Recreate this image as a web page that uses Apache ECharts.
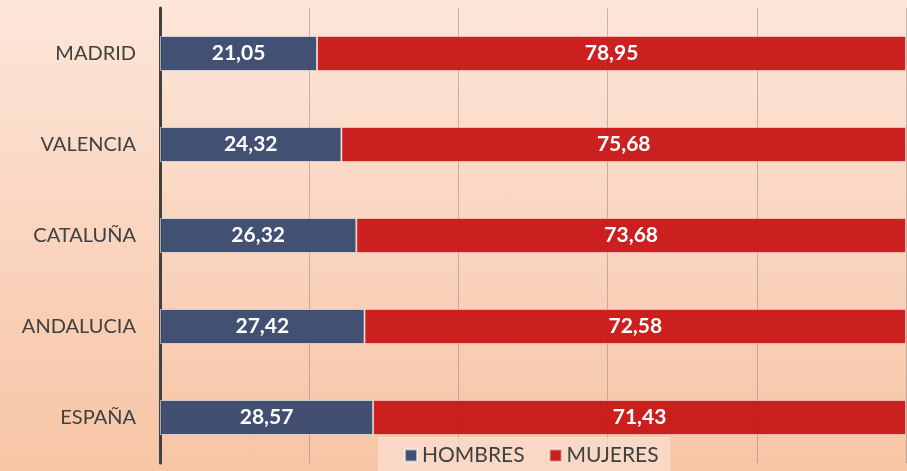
<!DOCTYPE html>
<html>
<head>
<meta charset="utf-8">
<script src="https://cdn.jsdelivr.net/npm/echarts@6/dist/echarts.min.js"></script>
<style>
html,body{margin:0;padding:0;}
#chart{width:907px;height:471px;background:linear-gradient(to bottom,#fde6d9 0%,#f9d3bc 55%,#f6c5a5 100%);}
</style>
</head>
<body>
<div id="chart"></div>
<script>
const categories = ['MADRID','VALENCIA','CATALUÑA','ANDALUCIA','ESPAÑA'];
const hombres = [21.05, 24.32, 26.32, 27.42, 28.57];
const mujeres = [78.95, 75.68, 73.68, 72.58, 71.43];
const seriesNames = ['HOMBRES','MUJERES'];

const chart = echarts.init(document.getElementById('chart'));
const fmt = p => p.value.toFixed(2).replace('.', ',');
const labelStyle = {
  show: true, position: 'inside', color: '#ffffff', fontWeight: 'bold',
  fontSize: 21, fontFamily: 'Lato', formatter: fmt
};
chart.setOption({
  backgroundColor: 'transparent',
  animation: false,
  grid: {left: 160, right: 1, top: 8, bottom: 8, containLabel: false},
  xAxis: {
    type: 'value', min: 0, max: 100, interval: 20,
    axisLabel: {show: false}, axisLine: {show: false}, axisTick: {show: false},
    splitLine: {show: true, lineStyle: {color: 'rgba(140,120,110,0.45)', width: 1}}
  },
  yAxis: {
    type: 'category', data: categories, inverse: true,
    axisLine: {show: true, lineStyle: {color: '#404040', width: 3}},
    axisTick: {show: false},
    axisLabel: {color: '#404040', fontSize: 20, fontFamily: 'Lato', margin: 24}
  },
  legend: {
    data: seriesNames, left: 378, top: 437,
    backgroundColor: 'rgba(250,228,212,0.65)',
    padding: [8, 12, 12, 26], itemGap: 24,
    itemWidth: 12, itemHeight: 12, icon: 'rect',
    textStyle: {color: '#404040', fontSize: 21, fontFamily: 'Lato'}
  },
  series: [
    {
      name: seriesNames[0], type: 'bar', stack: 'total', data: hombres, barWidth: 35,
      itemStyle: {color: 'rgba(56,73,110,0.95)', borderColor: 'rgba(255,255,255,0.55)', borderWidth: 1},
      label: labelStyle
    },
    {
      name: seriesNames[1], type: 'bar', stack: 'total', data: mujeres, barWidth: 35,
      itemStyle: {color: 'rgba(200,22,22,0.95)', borderColor: 'rgba(255,255,255,0.45)', borderWidth: 1},
      label: labelStyle
    }
  ]
});
</script>
</body>
</html>
